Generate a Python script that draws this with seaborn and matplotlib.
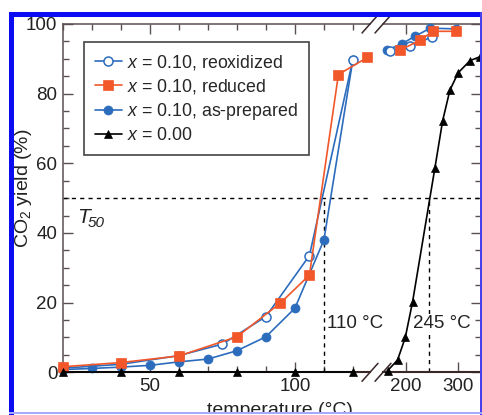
import matplotlib
matplotlib.use("Agg")
import matplotlib.pyplot as plt
from matplotlib.patches import Rectangle
from matplotlib.ticker import MultipleLocator
import seaborn as sns

sns.set_theme(style="white")
plt.rcParams["font.family"] = ["Liberation Sans", "DejaVu Sans"]
plt.rcParams["mathtext.fontset"] = "custom"
plt.rcParams["mathtext.rm"] = "Liberation Sans"
plt.rcParams["mathtext.it"] = "Liberation Sans:italic"

# --- data (temperature in °C, CO2 yield in %) ---
# low-temperature segment
reox_t_lo = [20, 40, 60, 75, 90, 105, 120]
reox_y_lo = [1.2, 2.3, 4.8, 8.1, 16.0, 33.5, 89.8]
red_t_lo = [20, 40, 60, 80, 95, 105, 115, 125]
red_y_lo = [1.6, 2.8, 4.7, 10.2, 19.9, 27.9, 85.5, 90.4]
prep_t_lo = [20, 30, 40, 50, 60, 70, 80, 90, 100, 110, 120]
prep_y_lo = [0.8, 1.1, 1.5, 2.0, 3.0, 3.8, 6.2, 10.2, 18.4, 38.0, 89.8]
x0_t_lo = [20, 40, 60, 80, 100, 120]
x0_y_lo = [0, 0, 0, 0, 0, 0]

# high-temperature segment
reox_t_hi = [170, 209, 250]
reox_y_hi = [92.3, 93.6, 96.3]
red_t_hi = [189, 227, 252, 297]
red_y_hi = [92.5, 95.3, 97.9, 97.9]
prep_t_hi = [164, 192, 218, 247, 297]
prep_y_hi = [92.5, 94.3, 96.5, 98.8, 98.6]
x0_t_hi = [165, 184, 199, 213, 256, 271, 285, 301, 324, 343]
x0_y_hi = [0.5, 3.5, 10.0, 20.2, 58.6, 72.2, 81.0, 86.0, 89.5, 90.6]

t50_level = 50
t50_temps = [110, 245]
t50_labels = ["110 °C", "245 °C"]

labels = [r"$x$ = 0.10, reoxidized", r"$x$ = 0.10, reduced",
          r"$x$ = 0.10, as-prepared", r"$x$ = 0.00"]

blue = "#2c6cbd"
red = "#f2572a"
frame = "#5a5050"
ink = "#222222"

W, H = 482, 415
fig = plt.figure(figsize=(W / 100, H / 100), dpi=100)
bottom = 1 - 372.3 / H
height = 348.3 / H
ax_lo = fig.add_axes([63 / W, bottom, (370 - 63) / W, height])
ax_hi = fig.add_axes([383 / W, bottom, (481 - 383) / W, height])

styles = {
    "reox": dict(color=blue, marker="o", markersize=6.5, markerfacecolor="white",
                 markeredgecolor=blue, markeredgewidth=1.1, linewidth=1.2),
    "red": dict(color=red, marker="s", markersize=6.5, markerfacecolor=red,
                markeredgecolor=red, markeredgewidth=0.5, linewidth=1.2),
    "prep": dict(color=blue, marker="o", markersize=6.5, markerfacecolor=blue,
                 markeredgecolor=blue, markeredgewidth=0.5, linewidth=1.2),
    "x0": dict(color="black", marker="^", markersize=6, markerfacecolor="black",
               markeredgecolor="black", markeredgewidth=0.5, linewidth=1.2),
}

series = [
    ("x0", x0_t_lo, x0_y_lo, x0_t_hi, x0_y_hi, 4),
    ("prep", prep_t_lo, prep_y_lo, prep_t_hi, prep_y_hi, 3),
    ("reox", reox_t_lo, reox_y_lo, reox_t_hi, reox_y_hi, 3),
    ("red", red_t_lo, red_y_lo, red_t_hi, red_y_hi, 3),
]
handles = {}
for key, tl, yl, th, yh, z in series:
    sns.lineplot(x=tl, y=yl, ax=ax_lo, sort=False, estimator=None, zorder=z,
                 clip_on=False, **styles[key])
    handles[key] = ax_lo.lines[-1]
    sns.lineplot(x=th, y=yh, ax=ax_hi, sort=False, estimator=None, zorder=z,
                 clip_on=False, **styles[key])

# T50 guides
for ax in (ax_lo, ax_hi):
    ax.axhline(t50_level, color="black", lw=1, ls=(0, (3, 3)), zorder=1)
ax_lo.vlines(t50_temps[0], 0, t50_level, color="black", lw=1, ls=(0, (3, 3)), zorder=1)
ax_hi.vlines(t50_temps[1], 0, t50_level, color="black", lw=1, ls=(0, (3, 3)), zorder=1)
ax_lo.text(111, 14.1, t50_labels[0], ha="left", va="center", fontsize=13.5, color=ink)
ax_hi.text(213, 14.1, t50_labels[1], ha="left", va="center", fontsize=13.5, color=ink,
           zorder=2, bbox=dict(facecolor="white", edgecolor="none", pad=0.5))
ax_lo.text(24.8, 44.5, "T", ha="left", va="center", fontsize=15, style="italic", color=ink)
ax_lo.annotate("50", xy=(24.8, 44.5), xytext=(8, -4), textcoords="offset points",
               ha="left", va="center", fontsize=11, style="italic", color=ink)

# axes limits and ticks
ax_lo.set_xlim(20, 125.9)
ax_hi.set_xlim(156, 345)
for ax in (ax_lo, ax_hi):
    ax.set_ylim(0, 100)
    ax.yaxis.set_major_locator(MultipleLocator(20))
    ax.yaxis.set_minor_locator(MultipleLocator(5))
    ax.set_xlabel("")
    ax.set_ylabel("")
    ax.tick_params(which="both", direction="in", colors=frame, labelcolor=ink,
                   labelsize=13.5, top=True, bottom=True, width=1)
    ax.tick_params(which="major", length=7, pad=4)
    ax.tick_params(which="minor", length=4)
    for s in ax.spines.values():
        s.set_color(frame)
        s.set_linewidth(1.1)
    ax.spines["bottom"].set_color("#3a2828")
    ax.spines["bottom"].set_linewidth(1.5)

ax_lo.set_xticks([50, 100])
ax_lo.xaxis.set_minor_locator(MultipleLocator(10))
ax_lo.tick_params(which="both", left=True, right=False)
ax_lo.spines["right"].set_visible(False)

ax_hi.set_xticks([200, 300])
ax_hi.tick_params(which="both", left=False, right=True, labelleft=False, labelright=False)
ax_hi.spines["left"].set_visible(False)

# break marks
for ax, xa in ((ax_lo, 1.0), (ax_hi, 0.0)):
    bb = ax.get_position()
    dx = 8 / (bb.width * W)
    dy = 9 / (bb.height * H)
    for ya in (0.0, 1.0):
        ax.plot([xa - dx, xa + dx], [ya - dy, ya + dy], transform=ax.transAxes,
                color="#3a2828", lw=1.1, clip_on=False, zorder=6)

# legend
leg = ax_lo.legend([handles["reox"], handles["red"], handles["prep"], handles["x0"]], labels,
                   loc="upper left", bbox_to_anchor=(0.068, 0.948), borderaxespad=0,
                   fontsize=12.8, frameon=True, fancybox=False, framealpha=1,
                   edgecolor="#444", handlelength=1.5, handletextpad=0.3,
                   labelspacing=0.28, borderpad=0.62)
leg.get_frame().set_linewidth(1.2)

fig.text(23 / W, 1 - 188 / H, "CO$_2$ yield (%)", rotation=90, ha="center", va="center",
         fontsize=14, color=ink)
fig.text(280 / W, 1 - 410.5 / H, "temperature (°C)", ha="center", va="center",
         fontsize=14, color=ink)

# screenshot border
def frac_rect(x, y, w, h, color):
    fig.add_artist(Rectangle((x / W, 1 - (y + h) / H), w / W, h / H,
                             transform=fig.transFigure, facecolor=color,
                             edgecolor="none", zorder=20))

frac_rect(0, 0, W, 12, "white")
frac_rect(0, 0, 9, H, "white")
frac_rect(0, 413.5, W, 2, "white")
frac_rect(9, 12, W - 9, 5, "#0a0cf2")
frac_rect(9, 12, 5, H - 12, "#0a0cf2")
frac_rect(479.5, 12, 2.5, H - 12, "#4a40f0")
frac_rect(9, 411.5, W - 9, 2, "#a8a8ff")

fig.savefig("out.png", dpi=100)
